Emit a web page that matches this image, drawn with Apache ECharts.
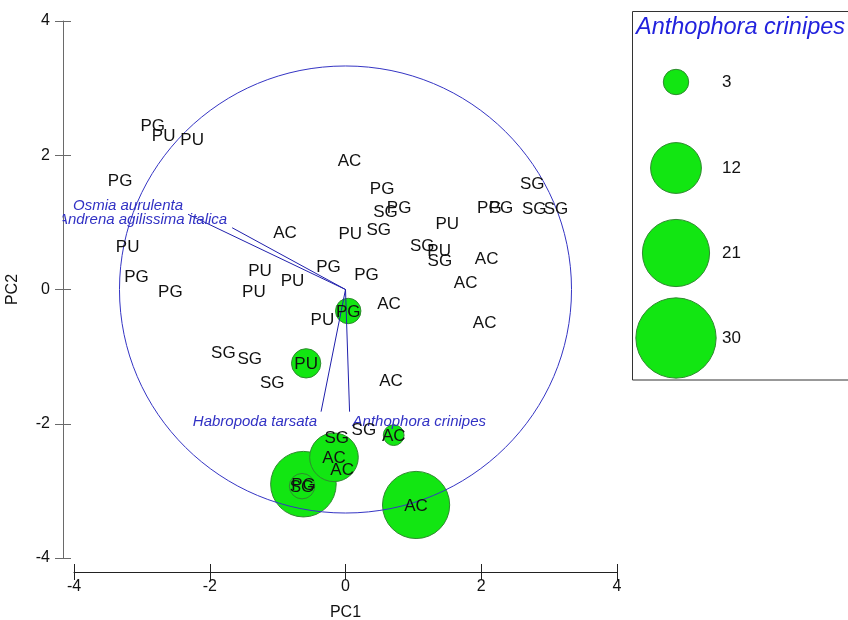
<!DOCTYPE html>
<html>
<head>
<meta charset="utf-8">
<script src="https://cdn.jsdelivr.net/npm/echarts@6/dist/echarts.min.js"></script>
<style>
  html, body { margin: 0; padding: 0; background: #ffffff; }
  #chart { width: 848px; height: 620px; }
</style>
</head>
<body>
<div id="chart"></div>
<script>
// Sample scores on the first two principal components, labelled by site,
// with the number of Anthophora crinipes individuals caught in each sample.
const sampleSites = [
  'PG', 'PU', 'PU', 'PG', 'PU', 'PG', 'PG', 'AC', 'PU', 'PU',
  'PU', 'PG', 'AC', 'PU', 'PG', 'SG', 'PG', 'SG', 'PU', 'SG',
  'PU', 'SG', 'AC', 'AC', 'AC', 'PG', 'AC', 'PG', 'PU', 'PG',
  'PG', 'SG', 'SG', 'SG', 'SG', 'SG', 'SG', 'PU', 'AC', 'SG',
  'SG', 'AC', 'AC', 'AC', 'PG', 'SG', 'AC'
];
const pc1 = [
  -2.84, -2.68, -2.26, -3.32, -3.21, -3.08, -2.58, -0.89, -1.26, -0.78,
  -1.35, -0.25, 0.06, 0.07, 0.54, 0.59, 0.79, 0.49, 1.50, 1.13,
  1.38, 1.39, 2.08, 1.77, 2.05, 0.31, 0.64, 0.04, -0.34, 2.12,
  2.29, 2.75, 2.78, 3.10, -1.80, -1.41, -1.08, -0.58, 0.67, -0.13,
  0.27, 0.71, -0.17, -0.05, -0.62, -0.64, 1.04
];
const pc2 = [
  2.44, 2.29, 2.24, 1.63, 0.64, 0.20, -0.02, 0.85, 0.29, 0.14,
  -0.03, 0.34, 1.92, 0.84, 1.51, 1.16, 1.22, 0.90, 0.99, 0.66,
  0.58, 0.44, 0.46, 0.10, -0.49, 0.23, -0.20, -0.32, -0.45, 1.22,
  1.22, 1.58, 1.21, 1.21, -0.94, -1.03, -1.39, -1.10, -1.35, -2.20,
  -2.09, -2.17, -2.50, -2.68, -2.90, -2.93, -3.21
];
const anthophoraCounts = [
  0, 0, 0, 0, 0, 0, 0, 0, 0, 0,
  0, 0, 0, 0, 0, 0, 0, 0, 0, 0,
  0, 0, 0, 0, 0, 0, 0, 3, 0, 0,
  0, 0, 0, 0, 0, 0, 0, 4, 0, 0,
  0, 2, 11, 0, 20, 3, 21
];

// Species loadings (arrow tips)
const speciesNames = ['Osmia aurulenta', 'Andrena agilissima italica', 'Habropoda tarsata', 'Anthophora crinipes'];
const speciesPC1 = [-2.32, -1.67, -0.36, 0.06];
const speciesPC2 = [1.12, 0.92, -1.82, -1.82];

// Bubble legend values and axis ticks
const legendCounts = [3, 12, 21, 30];
const axisMin = -4;
const axisMax = 4;
const axisStep = 2;
const circleRadius = 3.33;

const FONT = '"Liberation Sans", Arial, sans-serif';
const GREEN = '#12e612';
const GREEN_EDGE = '#2f8a2f';
const BLUE_TEXT = '#3131c4';

// Bubble area proportional to count
function bubbleDiameter(count) {
  return 2 * 7.33 * Math.sqrt(count);
}

// Arrow label placement relative to the arrow tip
const arrowLabelPlacement = [
  { align: 'right', dx: -5, dy: -8 },
  { align: 'right', dx: -5, dy: -8 },
  { align: 'right', dx: -4, dy: 10 },
  { align: 'left', dx: 3, dy: 10 }
];

const samples = sampleSites.map((s, i) => [pc1[i], pc2[i], anthophoraCounts[i], s]);
const bubbles = samples
  .filter(d => d[2] > 0)
  .sort((a, b) => b[2] - a[2]);

const chart = echarts.init(document.getElementById('chart'), null, { renderer: 'canvas' });

const axisLabelStyle = { color: '#111', fontSize: 16, fontFamily: FONT };

// Legend box with sized circles
const legendX = 676;
const legendY = [82, 168, 253, 338];
const legendGraphics = [
  {
    type: 'rect', z: 10,
    shape: { x: 632.5, y: 11.5, width: 240, height: 368.5 },
    style: { fill: '#ffffff', stroke: '#333333', lineWidth: 1 }
  },
  {
    type: 'text', z: 11, x: 636, y: 27,
    style: {
      text: 'Anthophora crinipes', fill: '#2222dd',
      fontSize: 23.5, fontStyle: 'italic', fontFamily: FONT,
      align: 'left', verticalAlign: 'middle'
    }
  }
];
legendCounts.forEach((c, i) => {
  legendGraphics.push({
    type: 'circle', z: 11,
    shape: { cx: legendX, cy: legendY[i], r: bubbleDiameter(c) / 2 },
    style: { fill: GREEN, stroke: GREEN_EDGE, lineWidth: 1 }
  });
  legendGraphics.push({
    type: 'text', z: 11, x: 722, y: legendY[i],
    style: {
      text: String(c), fill: '#111', fontSize: 17, fontFamily: FONT,
      align: 'left', verticalAlign: 'middle'
    }
  });
});
// the long arrow label runs off the left edge of the plotting frame
legendGraphics.push({
  type: 'rect', z: 50,
  shape: { x: 20, y: 211, width: 42.5, height: 18 },
  style: { fill: '#ffffff' }
});

const option = {
  animation: false,
  backgroundColor: '#ffffff',
  grid: { left: 74, right: 231, top: 21, bottom: 62, containLabel: false, outerBoundsMode: 'none' },
  xAxis: [
    {
      type: 'value', min: axisMin, max: axisMax, interval: axisStep,
      position: 'bottom', offset: 14,
      name: 'PC1', nameLocation: 'middle', nameGap: 33,
      nameTextStyle: { color: '#111', fontSize: 16, fontFamily: FONT },
      axisLine: { show: true, onZero: false, lineStyle: { color: '#222', width: 1 } },
      axisTick: { show: true, length: 8, lineStyle: { color: '#222' } },
      axisLabel: Object.assign({ margin: 7 }, axisLabelStyle),
      splitLine: { show: false }
    },
    {
      type: 'value', min: axisMin, max: axisMax, interval: axisStep,
      position: 'bottom', offset: 14,
      axisLine: { show: false, onZero: false },
      axisTick: { show: true, inside: true, length: 8, lineStyle: { color: '#222' } },
      axisLabel: { show: false },
      splitLine: { show: false }
    }
  ],
  yAxis: [
    {
      type: 'value', min: axisMin, max: axisMax, interval: axisStep,
      position: 'left', offset: 11,
      name: 'PC2', nameLocation: 'middle', nameGap: 42,
      nameTextStyle: { color: '#111', fontSize: 16, fontFamily: FONT },
      axisLine: { show: true, onZero: false, lineStyle: { color: '#6a6a6a', width: 1 } },
      axisTick: { show: true, length: 8, lineStyle: { color: '#6a6a6a' } },
      axisLabel: Object.assign({ margin: 13 }, axisLabelStyle),
      splitLine: { show: false }
    },
    {
      type: 'value', min: axisMin, max: axisMax, interval: axisStep,
      position: 'left', offset: 11,
      axisLine: { show: false, onZero: false },
      axisTick: { show: true, inside: true, length: 8, lineStyle: { color: '#6a6a6a' } },
      axisLabel: { show: false },
      splitLine: { show: false }
    }
  ],
  graphic: legendGraphics,
  series: [
    {
      name: 'Anthophora crinipes',
      type: 'scatter',
      z: 2,
      data: bubbles.map(d => [d[0], d[1], d[2]]),
      symbol: 'circle',
      symbolSize: d => bubbleDiameter(d[2]),
      itemStyle: { color: GREEN, borderColor: GREEN_EDGE, borderWidth: 1, opacity: 1 },
      emphasis: { disabled: true },
      clip: false
    },
    {
      // correlation circle
      type: 'custom',
      z: 3,
      clip: false,
      data: [[0, 0]],
      renderItem: function (params, api) {
        const c = api.coord([0, 0]);
        const rx = api.size([circleRadius, 0])[0];
        const ry = api.size([0, circleRadius])[1];
        return {
          type: 'ellipse',
          shape: { cx: c[0], cy: c[1], rx: rx, ry: ry },
          style: { fill: 'none', stroke: '#3535c4', lineWidth: 1 }
        };
      }
    },
    {
      // species arrows
      type: 'custom',
      z: 4,
      clip: false,
      data: speciesNames.map((n, i) => [speciesPC1[i], speciesPC2[i]]),
      renderItem: function (params, api) {
        const i = params.dataIndex;
        const o = api.coord([0, 0]);
        const e = api.coord([api.value(0), api.value(1)]);
        const p = arrowLabelPlacement[i];
        return {
          type: 'group',
          children: [
            {
              type: 'line',
              shape: { x1: o[0], y1: o[1], x2: e[0], y2: e[1] },
              style: { stroke: '#2020ac', lineWidth: 1 }
            },
            {
              type: 'text',
              x: e[0] + p.dx, y: e[1] + p.dy,
              style: {
                text: speciesNames[i], fill: BLUE_TEXT,
                fontSize: 15, fontStyle: 'italic', fontFamily: FONT,
                align: p.align, verticalAlign: 'middle'
              }
            }
          ]
        };
      }
    },
    {
      // sample site labels
      type: 'custom',
      z: 5,
      clip: false,
      data: samples.map(d => [d[0], d[1]]),
      renderItem: function (params, api) {
        const p = api.coord([api.value(0), api.value(1)]);
        return {
          type: 'text',
          x: p[0], y: p[1] + 1,
          style: {
            text: sampleSites[params.dataIndex], fill: '#111111',
            fontSize: 17, fontFamily: FONT,
            align: 'center', verticalAlign: 'middle'
          }
        };
      }
    }
  ]
};

chart.setOption(option);
</script>
</body>
</html>
